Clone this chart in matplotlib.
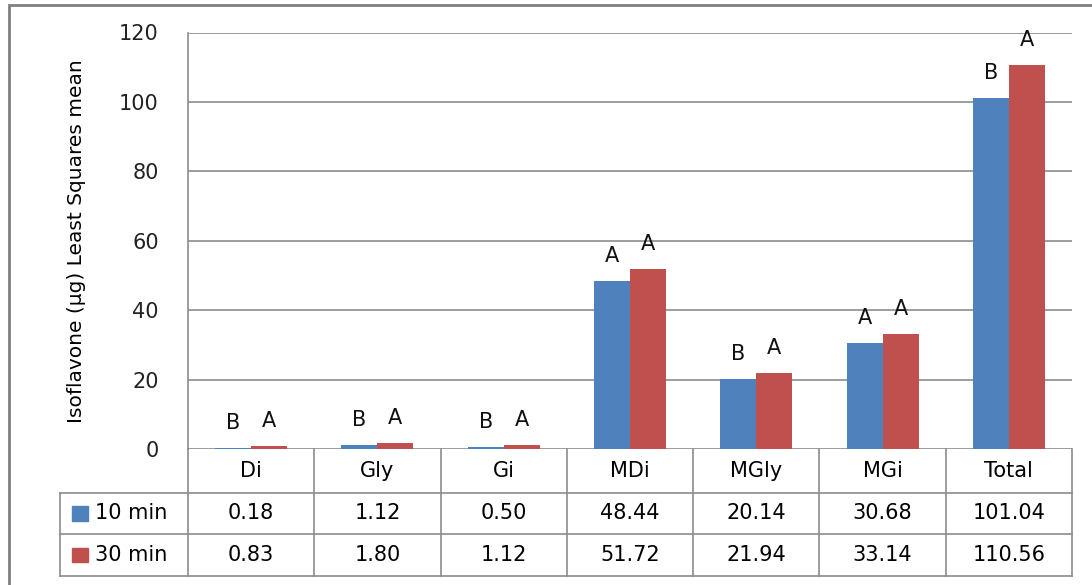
import matplotlib
matplotlib.use("Agg")
import matplotlib.pyplot as plt
from matplotlib.patches import Rectangle

categories = ["Di", "Gly", "Gi", "MDi", "MGly", "MGi", "Total"]
series_names = ["10 min", "30 min"]
min10 = [0.18, 1.12, 0.50, 48.44, 20.14, 30.68, 101.04]
min30 = [0.83, 1.80, 1.12, 51.72, 21.94, 33.14, 110.56]
letters10 = ["B", "B", "B", "A", "B", "A", "B"]
letters30 = ["A", "A", "A", "A", "A", "A", "A"]
yticks = [0, 20, 40, 60, 80, 100, 120]

BLUE = "#4F81BD"
RED = "#C0504D"
GRID = "#8C8C8C"
FS = 15

fig = plt.figure(figsize=(10.92, 5.85), dpi=100)
ax = fig.add_axes([188 / 1092, 1 - 449 / 585, (1072 - 188) / 1092, (449 - 32.5) / 585])

n = len(categories)
xs = list(range(n))
w = 0.285
b1 = ax.bar([x - w / 2 for x in xs], min10, width=w, color=BLUE, zorder=3)
b2 = ax.bar([x + w / 2 for x in xs], min30, width=w, color=RED, zorder=3)

# significance letters above each bar
for bars, letters in ((b1, letters10), (b2, letters30)):
    for rect, lab in zip(bars, letters):
        ax.annotate(lab, (rect.get_x() + rect.get_width() / 2, rect.get_height()),
                    xytext=(0, 18), textcoords="offset points",
                    ha="center", va="center", fontsize=FS, color="#111111")

ax.set_xlim(-0.5, n - 0.5)
ax.set_ylim(0, 120)
ax.set_yticks(yticks)
ax.tick_params(axis="y", length=0, pad=21, labelsize=FS, colors="#222222")
ax.set_xticks([])
ax.yaxis.grid(True, color=GRID, linewidth=1.2, zorder=0)
for s in ("top", "right", "bottom"):
    ax.spines[s].set_visible(False)
ax.spines["left"].set_color(GRID)
ax.spines["left"].set_linewidth(1.2)
ax.set_ylabel("Isoflavone (\u00b5g) Least Squares mean", fontsize=14.5, labelpad=24)

# data table under the axis
tr = ax.get_xaxis_transform()
h_head, h_r1, h_r2 = -0.1056, -0.204, -0.304
x_left = -0.5 - 1.01
x_right = n - 0.5
lk = dict(color=GRID, linewidth=1.2, transform=tr, clip_on=False)

ax.plot([-0.5, -0.5], [0, h_r2], **lk)
for i in range(n):
    ax.plot([i + 0.5, i + 0.5], [0, h_r2], **lk)
ax.plot([x_left, x_left], [h_head, h_r2], **lk)
for y in (h_head, h_r1, h_r2):
    ax.plot([x_left, x_right], [y, y], **lk)

for i, c in enumerate(categories):
    ax.text(i, h_head / 2, c, transform=tr, ha="center", va="center", fontsize=FS)
    ax.text(i, (h_head + h_r1) / 2, f"{min10[i]:.2f}", transform=tr,
            ha="center", va="center", fontsize=FS)
    ax.text(i, (h_r1 + h_r2) / 2, f"{min30[i]:.2f}", transform=tr,
            ha="center", va="center", fontsize=FS)

for (y0, y1), name, col in (((h_head, h_r1), series_names[0], BLUE),
                            ((h_r1, h_r2), series_names[1], RED)):
    ym = (y0 + y1) / 2
    ax.add_patch(Rectangle((x_left + 0.095, ym - 0.017), 0.12, 0.034,
                           transform=tr, color=col, clip_on=False))
    ax.text(x_left + 0.27, ym, name, transform=tr, ha="left", va="center", fontsize=FS)

# outer chart frame
fig.add_artist(Rectangle((9 / 1092, -0.1), 1.2, 1 - 5 / 585 + 0.1, transform=fig.transFigure,
                         fill=False, edgecolor="#808080", linewidth=2))

fig.savefig("out.png", dpi=100)
